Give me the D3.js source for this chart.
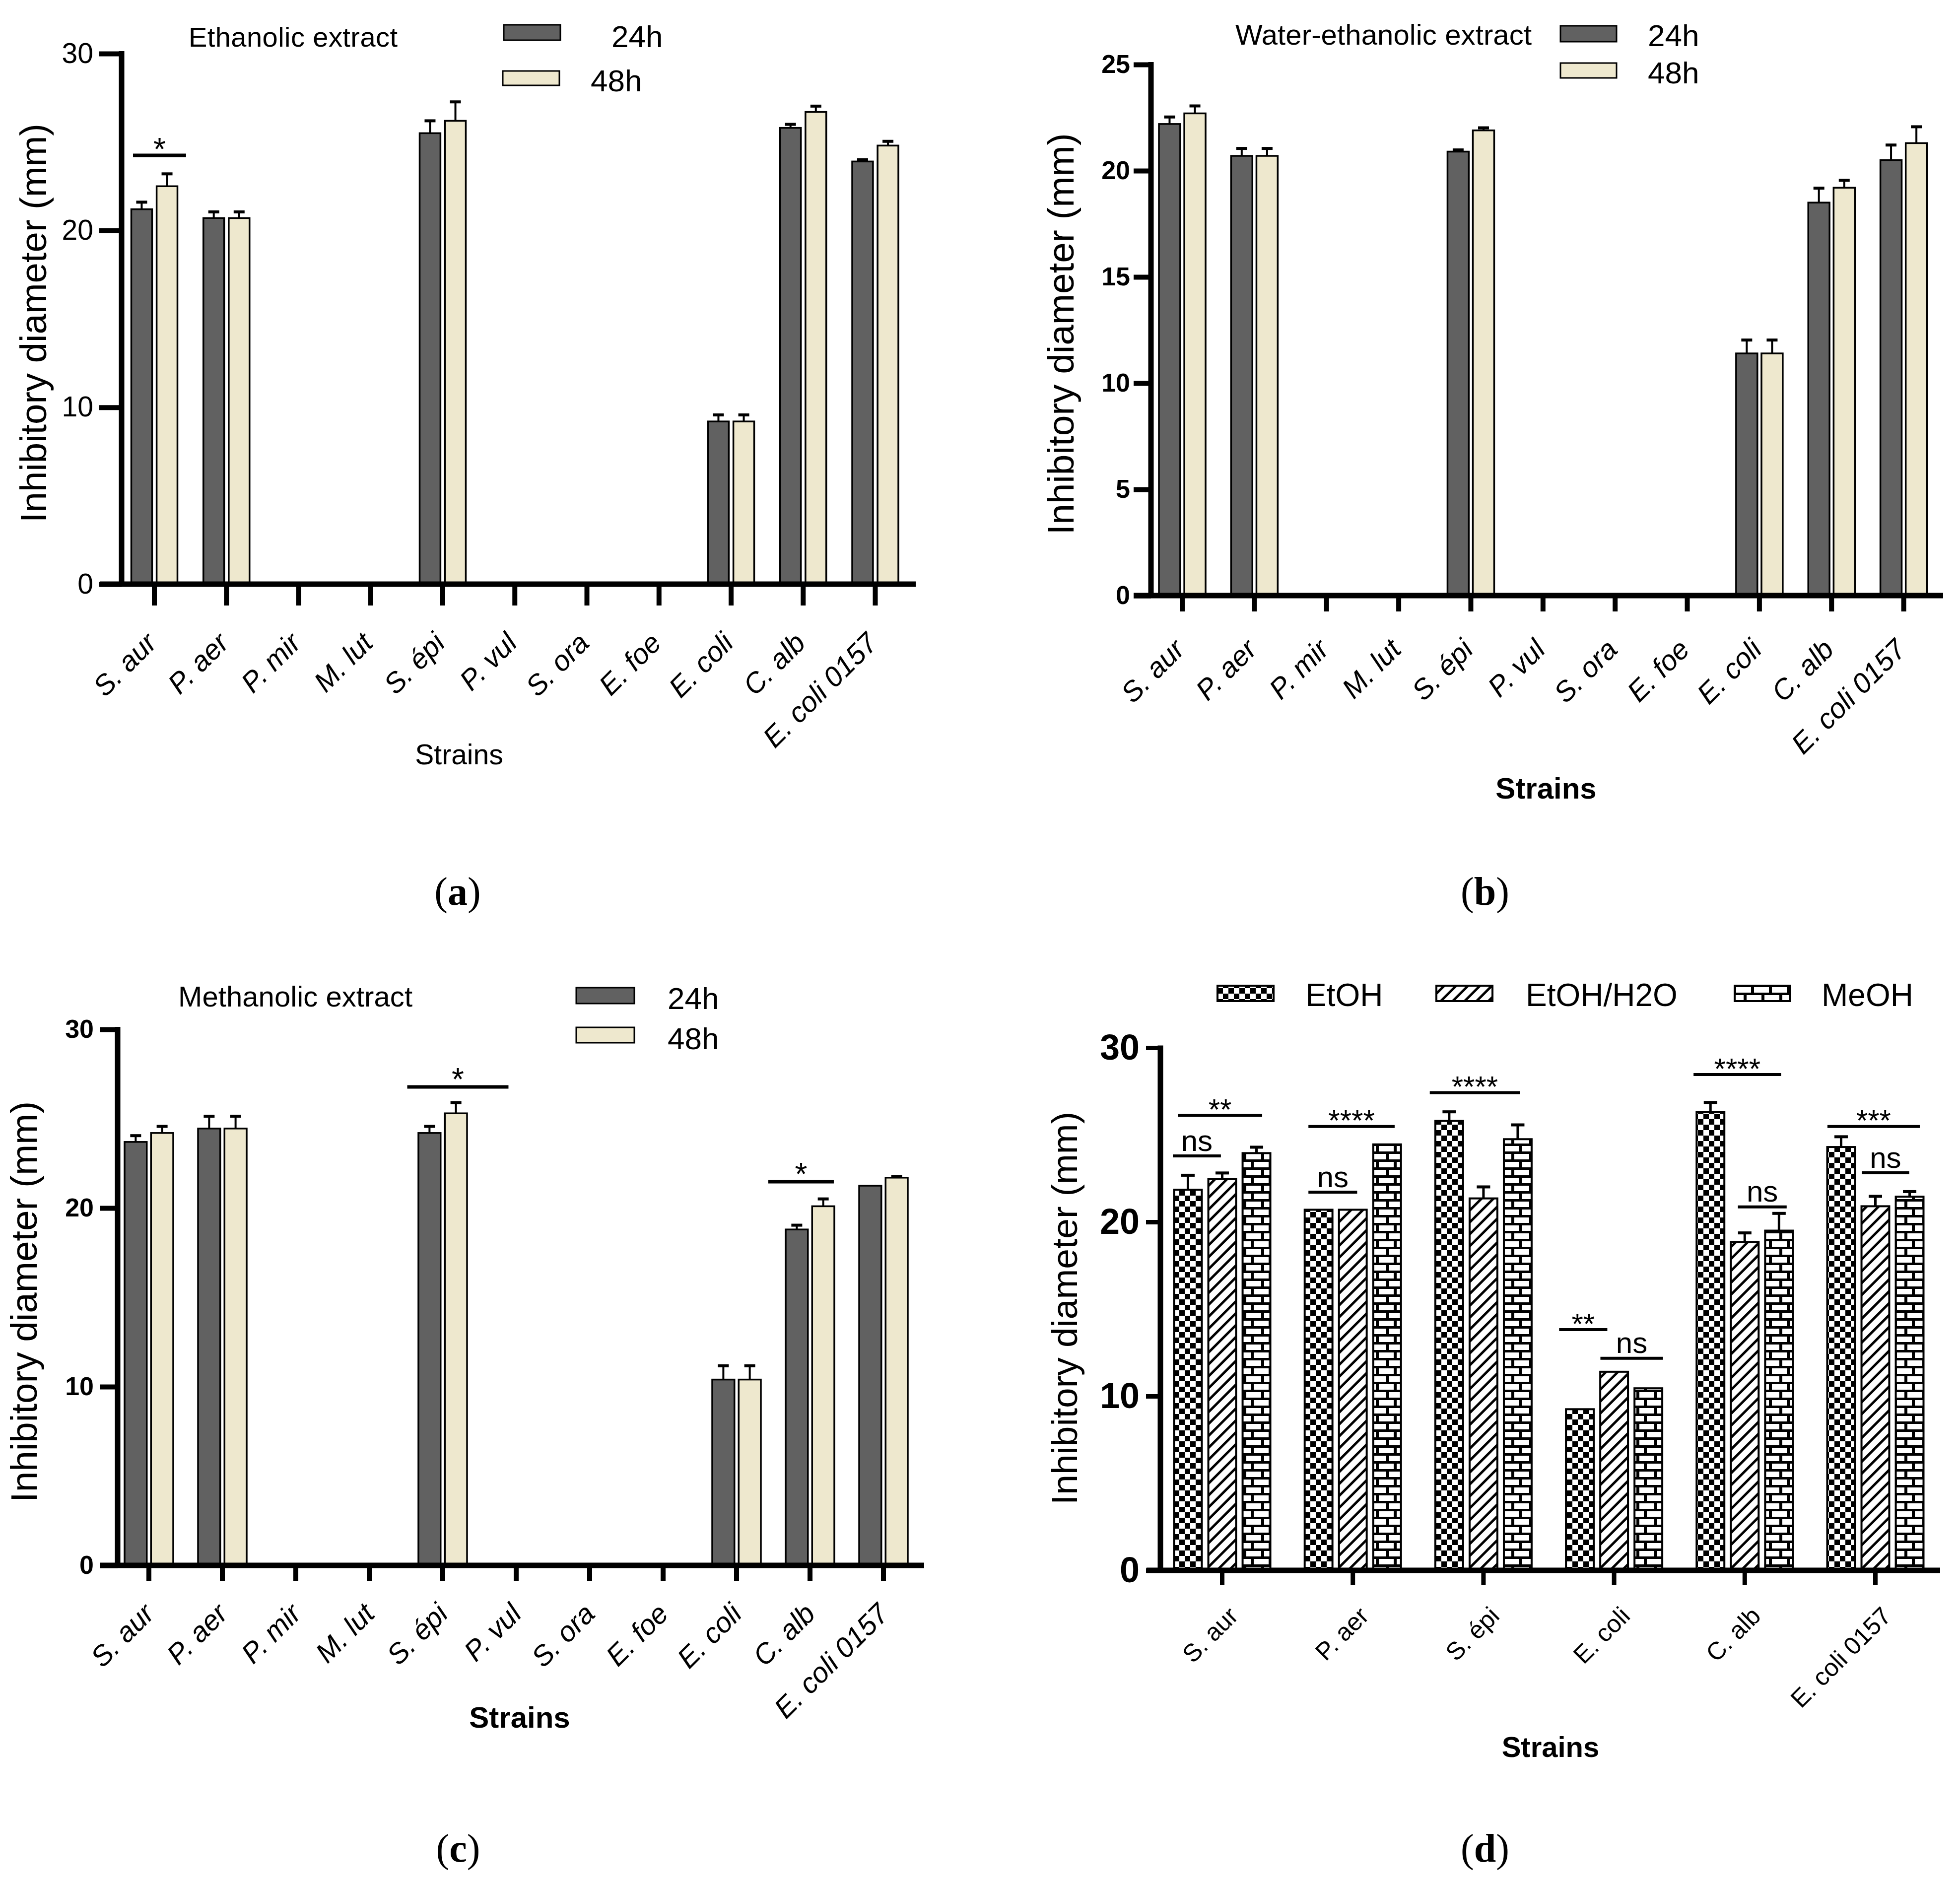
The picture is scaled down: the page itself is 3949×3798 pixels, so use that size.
<!DOCTYPE html>
<html>
<head>
<meta charset="utf-8">
<script src="https://cdn.jsdelivr.net/npm/d3@7"></script>
<style>
  body { margin: 0; background: #fff; }
  svg { display: block; }
</style>
</head>
<body>
<svg id="fig"></svg>
<script>
// ---- data ----
const strains = ["S. aur", "P. aer", "P. mir", "M. lut", "S. épi", "P. vul", "S. ora", "E. foe", "E. coli", "C. alb", "E. coli 0157"];
const strainsActive = ["S. aur", "P. aer", "S. épi", "E. coli", "C. alb", "E. coli 0157"];
const hours = ["24h", "48h"];
const extracts = ["EtOH", "EtOH/H2O", "MeOH"];

const ticks30 = [0, 10, 20, 30];
const ticks25 = [0, 5, 10, 15, 20, 25];

// (a) ethanolic extract
const ethanol24    = [21.2, 20.7, 0, 0, 25.5, 0, 0, 0, 9.2, 25.8, 23.9];
const ethanol24Sem = [0.4, 0.35, 0, 0, 0.7, 0, 0, 0, 0.37, 0.2, 0.1];
const ethanol48    = [22.5, 20.7, 0, 0, 26.2, 0, 0, 0, 9.2, 26.7, 24.8];
const ethanol48Sem = [0.7, 0.35, 0, 0, 1.07, 0, 0, 0, 0.37, 0.33, 0.24];

// (b) water-ethanolic extract
const water24    = [22.2, 20.7, 0, 0, 20.9, 0, 0, 0, 11.4, 18.5, 20.5];
const water24Sem = [0.33, 0.35, 0, 0, 0.08, 0, 0, 0, 0.63, 0.68, 0.71];
const water48    = [22.7, 20.7, 0, 0, 21.9, 0, 0, 0, 11.4, 19.2, 21.3];
const water48Sem = [0.35, 0.35, 0, 0, 0.12, 0, 0, 0, 0.63, 0.35, 0.77];

// (c) methanolic extract
const methanol24    = [23.7, 24.45, 0, 0, 24.2, 0, 0, 0, 10.4, 18.8, 21.25];
const methanol24Sem = [0.35, 0.69, 0, 0, 0.37, 0, 0, 0, 0.77, 0.24, 0];
const methanol48    = [24.2, 24.45, 0, 0, 25.3, 0, 0, 0, 10.4, 20.1, 21.7];
const methanol48Sem = [0.37, 0.69, 0, 0, 0.6, 0, 0, 0, 0.77, 0.41, 0.07];

// (d) comparison of extracts
const etoh        = [21.85, 20.7, 25.8, 9.25, 26.3, 24.3];
const etohSem     = [0.83, 0, 0.52, 0, 0.56, 0.59];
const etohWater   = [22.45, 20.7, 21.35, 11.4, 18.85, 20.9];
const etohWaterSem = [0.36, 0, 0.66, 0, 0.52, 0.57];
const meoh        = [23.95, 24.45, 24.75, 10.45, 19.5, 21.45];
const meohSem     = [0.34, 0, 0.82, 0, 0.99, 0.29];

// significance marks: category, label, height of the bar (in mm)
const sigACats = ["S. aur"];
const sigALabels = ["*"];
const sigAValues = [24.25];

const sigCCats = ["S. épi", "C. alb"];
const sigCLabels = ["*", "*"];
const sigCValues = [26.78, 21.47];

const sigDCats = ["S. aur", "S. aur", "P. aer", "P. aer", "S. épi", "E. coli", "E. coli", "C. alb", "C. alb", "E. coli 0157", "E. coli 0157"];
const sigDLabels = ["**", "ns", "****", "ns", "****", "**", "ns", "****", "ns", "***", "ns"];
const sigDValues = [26.12, 23.79, 25.48, 21.71, 27.42, 13.82, 12.17, 28.46, 20.86, 25.48, 22.82];

// ---- page ----
const W = 3949, H = 3798;
const SANS = "'Liberation Sans', Arial, sans-serif";
const SERIF = "'Liberation Serif', 'Times New Roman', serif";
const dark = "#616161", cream = "#EEE8CE";

const svg = d3.select("#fig").attr("width", W).attr("height", H);
svg.append("rect").attr("width", W).attr("height", H).attr("fill", "#fff");

// fill patterns for panel (d)
const defs = svg.append("defs");
const chk = defs.append("pattern").attr("id", "checker")
  .attr("patternUnits", "userSpaceOnUse").attr("width", 22).attr("height", 22);
chk.append("rect").attr("width", 22).attr("height", 22).attr("fill", "#fff");
chk.append("rect").attr("width", 11).attr("height", 11).attr("fill", "#000");
chk.append("rect").attr("x", 11).attr("y", 11).attr("width", 11).attr("height", 11).attr("fill", "#000");

const hat = defs.append("pattern").attr("id", "hatch")
  .attr("patternUnits", "userSpaceOnUse").attr("width", 24).attr("height", 24);
hat.append("rect").attr("width", 24).attr("height", 24).attr("fill", "#fff");
hat.append("path").attr("d", "M-6,6L6,-6M0,24L24,0M18,30L30,18")
  .attr("stroke", "#000").attr("stroke-width", 5);

const brk = defs.append("pattern").attr("id", "brick")
  .attr("patternUnits", "userSpaceOnUse").attr("width", 36).attr("height", 32);
brk.append("rect").attr("width", 36).attr("height", 32).attr("fill", "#000");
[[6, 5, 30, 11], [0, 21, 21, 11], [27, 21, 9, 11]].forEach(r => {
  brk.append("rect").attr("x", r[0]).attr("y", r[1]).attr("width", r[2]).attr("height", r[3]).attr("fill", "#fff");
});

function drawPanel(p) {
  const g = svg.append("g");
  const n = p.cats.length;
  const x = d3.scaleBand().domain(p.cats)
    .range([p.firstCenter - p.step / 2, p.firstCenter - p.step / 2 + n * p.step]);
  const x1 = d3.scaleBand().domain(p.series.map(s => s.name))
    .range([-p.groupW / 2, p.groupW / 2]).paddingInner(p.barGap);
  const y = d3.scaleLinear().domain([0, p.yMax]).range([p.y0, p.yTop]);
  const cx = c => x(c) + x.bandwidth() / 2;

  // bars + error bars (upper half only)
  p.series.forEach(s => {
    const rows = p.cats.map((c, i) => ({ c: c, v: s.values[i], e: s.sems[i] })).filter(d => d.v > 0);
    g.selectAll(null).data(rows).join("rect")
      .attr("x", d => cx(d.c) + x1(s.name))
      .attr("width", x1.bandwidth())
      .attr("y", d => y(d.v))
      .attr("height", d => y(0) - y(d.v))
      .attr("fill", s.fill)
      .attr("stroke", "#000")
      .attr("stroke-width", p.barStroke);
    const errs = rows.filter(d => d.e > 0);
    const xm = d => cx(d.c) + x1(s.name) + x1.bandwidth() / 2;
    g.selectAll(null).data(errs).join("line")
      .attr("x1", xm).attr("x2", xm)
      .attr("y1", d => y(d.v)).attr("y2", d => y(d.v + d.e))
      .attr("stroke", "#000").attr("stroke-width", p.errStroke);
    g.selectAll(null).data(errs).join("line")
      .attr("x1", d => xm(d) - p.capW / 2).attr("x2", d => xm(d) + p.capW / 2)
      .attr("y1", d => y(d.v + d.e)).attr("y2", d => y(d.v + d.e))
      .attr("stroke", "#000").attr("stroke-width", p.capStroke);
  });

  // y axis
  const ya = g.append("g")
    .attr("transform", "translate(" + p.yAxisX + ",0)")
    .attr("font-family", SANS)
    .call(d3.axisLeft(y).tickValues(p.yTicks).tickSize(p.yTickLen).tickSizeOuter(0).tickPadding(p.yTickPad));
  ya.select(".domain").remove();
  ya.selectAll(".tick line").attr("stroke", "#000").attr("stroke-width", p.tickW);
  ya.selectAll(".tick text")
    .attr("fill", "#000")
    .attr("font-size", p.tickFont)
    .attr("font-weight", p.tickBold ? "bold" : "normal");

  // x axis
  const xa = g.append("g")
    .attr("transform", "translate(0," + p.y0 + ")")
    .attr("font-family", SANS)
    .call(d3.axisBottom(x).tickSize(p.xTickLen).tickSizeOuter(0));
  xa.select(".domain").remove();
  xa.selectAll(".tick line").attr("stroke", "#000").attr("stroke-width", p.tickW);
  xa.selectAll(".tick text")
    .attr("y", null).attr("dy", null)
    .attr("fill", "#000")
    .attr("font-size", p.xLabelFont)
    .attr("font-style", p.xLabelItalic ? "italic" : "normal")
    .attr("text-anchor", "end")
    .attr("transform", "translate(" + p.xLabelDx + "," + p.xLabelDy + ") rotate(-45)");

  // axis lines
  g.append("line")
    .attr("x1", p.xAxisFrom).attr("x2", p.xAxisTo)
    .attr("y1", p.y0).attr("y2", p.y0)
    .attr("stroke", "#000").attr("stroke-width", p.axisW);
  g.append("line")
    .attr("x1", p.yAxisX).attr("x2", p.yAxisX)
    .attr("y1", p.yTop - p.tickW / 2).attr("y2", p.y0)
    .attr("stroke", "#000").attr("stroke-width", p.axisW);

  // significance brackets
  if (p.sig) {
    p.sig.cats.forEach((c, i) => {
      const span = p.sig.spans[i];
      const x0 = x(c) + span[0] * x.bandwidth();
      const x2 = x(c) + span[1] * x.bandwidth();
      const ly = y(p.sig.values[i]);
      const lab = p.sig.labels[i];
      g.append("line")
        .attr("x1", x0).attr("x2", x2).attr("y1", ly).attr("y2", ly)
        .attr("stroke", "#000").attr("stroke-width", p.sig.lineW);
      const isStar = lab.indexOf("*") >= 0;
      const cy = ly - p.sig.gap;
      g.append("text")
        .attr("x", (x0 + x2) / 2)
        .attr("y", cy + (isStar ? 0.58 : 0.26) * p.sig.font)
        .attr("text-anchor", "middle")
        .attr("font-family", SANS)
        .attr("font-size", p.sig.font)
        .text(lab);
    });
  }

  // y title
  g.append("text")
    .attr("transform", "translate(" + p.yTitle.x + "," + p.yTitle.cy + ") rotate(-90)")
    .attr("text-anchor", "middle")
    .attr("font-family", SANS)
    .attr("font-size", p.yTitle.font)
    .attr("textLength", p.yTitle.len)
    .attr("lengthAdjust", "spacingAndGlyphs")
    .text("Inhibitory diameter (mm)");

  // x title
  g.append("text")
    .attr("x", p.xTitle.x).attr("y", p.xTitle.y)
    .attr("text-anchor", "middle")
    .attr("font-family", SANS)
    .attr("font-size", p.xTitle.font)
    .attr("font-weight", p.xTitle.bold ? "bold" : "normal")
    .text("Strains");

  // panel title
  if (p.title) {
    g.append("text")
      .attr("x", p.title.x).attr("y", p.title.y)
      .attr("font-family", SANS)
      .attr("font-size", p.title.font)
      .attr("textLength", p.title.len)
      .attr("lengthAdjust", "spacing")
      .text(p.title.text);
  }

  // legend
  p.series.forEach((s, i) => {
    const lg = p.legend[i];
    g.append("rect")
      .attr("x", lg.rx).attr("y", lg.ry).attr("width", lg.rw).attr("height", lg.rh)
      .attr("fill", s.fill).attr("stroke", "#000").attr("stroke-width", p.legendStroke);
    g.append("text")
      .attr("x", lg.tx).attr("y", lg.ty)
      .attr("font-family", SANS)
      .attr("font-size", p.legendFont)
      .text(s.name);
  });

  // panel letter
  const pl = g.append("text")
    .attr("x", p.letter.cx).attr("y", p.letter.cy + 0.23 * 80)
    .attr("text-anchor", "middle")
    .attr("font-family", SERIF)
    .attr("font-size", 80);
  pl.append("tspan").text("(");
  pl.append("tspan").attr("font-weight", "bold").text(p.letter.text);
  pl.append("tspan").text(")");
}

// panel (a)
drawPanel({
  cats: strains,
  series: [
    { name: hours[0], values: ethanol24, sems: ethanol24Sem, fill: dark },
    { name: hours[1], values: ethanol48, sems: ethanol48Sem, fill: cream }
  ],
  yMax: 30, yTicks: ticks30, y0: 1177, yTop: 108, yAxisX: 245,
  xAxisFrom: 201, xAxisTo: 1845, firstCenter: 311, step: 145.25,
  groupW: 93, barGap: 0.18, barStroke: 3.5, errStroke: 4, capStroke: 6, capW: 22,
  axisW: 11, tickW: 10, yTickLen: 45, yTickPad: 12, xTickLen: 43,
  tickFont: 57, tickBold: false,
  xLabelFont: 57, xLabelItalic: true, xLabelDx: 8, xLabelDy: 122,
  sig: { cats: sigACats, labels: sigALabels, values: sigAValues, spans: [[0.204, 0.94]], lineW: 7, gap: 27, font: 64 },
  yTitle: { x: 93, cy: 651, len: 804, font: 74 },
  xTitle: { x: 925, y: 1540, font: 57, bold: false },
  title: { text: "Ethanolic extract", x: 380, y: 94, len: 421, font: 56 },
  legend: [
    { rx: 1015, ry: 50, rw: 114, rh: 31, tx: 1232, ty: 95 },
    { rx: 1013, ry: 143, rw: 114, rh: 29, tx: 1190, ty: 184 }
  ],
  legendStroke: 3, legendFont: 62,
  letter: { text: "a", cx: 922, cy: 1805 }
});

// panel (b)
drawPanel({
  cats: strains,
  series: [
    { name: hours[0], values: water24, sems: water24Sem, fill: dark },
    { name: hours[1], values: water48, sems: water48Sem, fill: cream }
  ],
  yMax: 25, yTicks: ticks25, y0: 1200, yTop: 130, yAxisX: 2319,
  xAxisFrom: 2284, xAxisTo: 3915, firstCenter: 2382, step: 145.36,
  groupW: 94, barGap: 0.16, barStroke: 3.5, errStroke: 4, capStroke: 6, capW: 22,
  axisW: 11, tickW: 10, yTickLen: 35, yTickPad: 7, xTickLen: 32,
  tickFont: 52, tickBold: true,
  xLabelFont: 57, xLabelItalic: true, xLabelDx: 8, xLabelDy: 112,
  sig: null,
  yTitle: { x: 2163, cy: 673, len: 809, font: 74 },
  xTitle: { x: 3115, y: 1609, font: 60, bold: true },
  title: { text: "Water-ethanolic extract", x: 2489, y: 90, len: 597, font: 58 },
  legend: [
    { rx: 3144, ry: 52, rw: 113, rh: 32, tx: 3320, ty: 93 },
    { rx: 3144, ry: 127, rw: 113, rh: 30, tx: 3320, ty: 168 }
  ],
  legendStroke: 3, legendFont: 62,
  letter: { text: "b", cx: 2992, cy: 1805 }
});

// panel (c)
drawPanel({
  cats: strains,
  series: [
    { name: hours[0], values: methanol24, sems: methanol24Sem, fill: dark },
    { name: hours[1], values: methanol48, sems: methanol48Sem, fill: cream }
  ],
  yMax: 30, yTicks: ticks30, y0: 3154, yTop: 2074, yAxisX: 237,
  xAxisFrom: 201, xAxisTo: 1862, firstCenter: 300, step: 148,
  groupW: 98, barGap: 0.16, barStroke: 3.5, errStroke: 4, capStroke: 6, capW: 22,
  axisW: 11, tickW: 10, yTickLen: 36, yTickPad: 12, xTickLen: 31,
  tickFont: 52, tickBold: true,
  xLabelFont: 57, xLabelItalic: true, xLabelDx: 14, xLabelDy: 101,
  sig: { cats: sigCCats, labels: sigCLabels, values: sigCValues, spans: [[0.017, 1.395], [-0.068, 0.824]], lineW: 7, gap: 30, font: 64 },
  yTitle: { x: 74, cy: 2623, len: 808, font: 74 },
  xTitle: { x: 1047, y: 3481, font: 60, bold: true },
  title: { text: "Methanolic extract", x: 359, y: 2028, len: 472, font: 58 },
  legend: [
    { rx: 1161, ry: 1990, rw: 117, rh: 32, tx: 1345, ty: 2033 },
    { rx: 1161, ry: 2070, rw: 117, rh: 31, tx: 1345, ty: 2114 }
  ],
  legendStroke: 3, legendFont: 62,
  letter: { text: "c", cx: 923, cy: 3733 }
});

// panel (d)
drawPanel({
  cats: strainsActive,
  series: [
    { name: extracts[0], values: etoh, sems: etohSem, fill: "url(#checker)" },
    { name: extracts[1], values: etohWater, sems: etohWaterSem, fill: "url(#hatch)" },
    { name: extracts[2], values: meoh, sems: meohSem, fill: "url(#brick)" }
  ],
  yMax: 30, yTicks: ticks30, y0: 3164, yTop: 2111, yAxisX: 2338,
  xAxisFrom: 2310, xAxisTo: 3909, firstCenter: 2462.5, step: 263.2,
  groupW: 194, barGap: 0.19, barStroke: 4, errStroke: 5, capStroke: 6, capW: 27,
  axisW: 11, tickW: 9, yTickLen: 29, yTickPad: 13, xTickLen: 30,
  tickFont: 72, tickBold: true,
  xLabelFont: 50, xLabelItalic: false, xLabelDx: 35, xLabelDy: 95,
  sig: {
    cats: sigDCats, labels: sigDLabels, values: sigDValues,
    spans: [[0.16, 0.806], [0.122, 0.49], [0.16, 0.82], [0.16, 0.533], [0.089, 0.778], [0.079, 0.448],
            [0.395, 0.874], [0.108, 0.778], [0.448, 0.821], [0.133, 0.84], [0.396, 0.759]],
    lineW: 6, gap: 26, font: 60
  },
  yTitle: { x: 2170, cy: 2636, len: 792, font: 72 },
  xTitle: { x: 3124, y: 3540, font: 58, bold: true },
  title: null,
  legend: [
    { rx: 2453, ry: 1986, rw: 113, rh: 31, tx: 2630, ty: 2027 },
    { rx: 2894, ry: 1986, rw: 113, rh: 31, tx: 3074, ty: 2027 },
    { rx: 3495, ry: 1986, rw: 111, rh: 31, tx: 3670, ty: 2027 }
  ],
  legendStroke: 4, legendFont: 64,
  letter: { text: "d", cx: 2992, cy: 3733 }
});
</script>
</body>
</html>
